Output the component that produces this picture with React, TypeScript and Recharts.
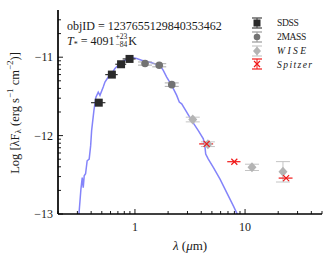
import React from "react";
import { ComposedChart, Line, Scatter, XAxis, YAxis, ErrorBar, Label } from "recharts";

// ---------------------------------------------------------------------------
// Data (wavelength in micron, log lambda F_lambda)
// ---------------------------------------------------------------------------

const MODEL_LAM = [
  0.31, 0.323, 0.332, 0.339, 0.346, 0.356, 0.368, 0.384, 0.396, 0.404, 0.424,
  0.442, 0.464, 0.481, 0.515, 0.534, 0.572, 0.614, 0.658, 0.705, 0.757, 0.841,
  0.933, 1.036, 1.15, 1.369, 1.688, 1.808, 1.942, 2.157, 2.394, 2.528, 2.658,
  2.951, 3.278, 3.763, 4.178, 4.329, 4.392, 4.639, 5.15, 5.926, 6.818, 7.828,
  8.511,
];
const MODEL_F = [
  -13.0, -12.683, -12.535, -12.663, -12.513, -12.487, -12.321, -12.299,
  -12.128, -11.936, -11.679, -11.509, -11.445, -11.487, -11.381, -11.317,
  -11.253, -11.209, -11.145, -11.103, -11.06, -11.029, -11.004, -11.017,
  -11.038, -11.064, -11.103, -11.167, -11.253, -11.359, -11.487, -11.573,
  -11.594, -11.701, -11.808, -11.936, -12.042, -12.15, -12.235, -12.299,
  -12.406, -12.555, -12.727, -12.897, -13.004,
];

const SDSS_LAM = [0.469, 0.617, 0.748, 0.893];
const SDSS_F = [-11.58, -11.222, -11.09, -11.022];
const SDSS_XERR = [0.07, 0.08, 0.085, 0.12];

const TMASS_LAM = [1.235, 1.662, 2.159];
const TMASS_F = [-11.081, -11.103, -11.35];
const TMASS_YERR = [0.02, 0.02, 0.022];

const WISE_LAM = [3.35, 4.6, 11.56, 22.1];
const WISE_F = [-11.795, -12.11, -12.405, -12.462];
const WISE_YERR = [0.03, 0.03, 0.04, 0.13];

const SPITZER_LAM = [4.48, 7.99, 23.6];
const SPITZER_F = [-12.106, -12.333, -12.542];
const SPITZER_XERR = [0.65, 1.1, 3.4];

const X_TICKS = [
  0.2, 0.3, 0.4, 0.5, 0.6, 0.7, 0.8, 0.9, 1, 2, 3, 4, 5, 6, 7, 8, 9, 10, 20, 30,
  40, 50,
];
const X_MAJOR = [1, 10];
const Y_MAJOR = [-13, -12, -11];
const Y_MINOR_MULT = [2, 3, 4, 5, 6, 7, 8, 9];

const model = MODEL_LAM.map((x, i) => ({ x, y: MODEL_F[i] }));
const sdss = SDSS_LAM.map((x, i) => ({ x, y: SDSS_F[i], ex: SDSS_XERR[i] }));
const tmass = TMASS_LAM.map((x, i) => ({ x, y: TMASS_F[i], ey: TMASS_YERR[i] }));
const wise = WISE_LAM.map((x, i) => ({ x, y: WISE_F[i], ey: WISE_YERR[i] }));
const spitzer = SPITZER_LAM.map((x, i) => ({ x, y: SPITZER_F[i], ex: SPITZER_XERR[i] }));

const yTicks = [
  ...Y_MAJOR,
  ...[-13, -12, -11].flatMap((d) => Y_MINOR_MULT.map((k) => d + Math.log10(k))),
].filter((v) => v <= -10.4);

// ---------------------------------------------------------------------------
// Styling
// ---------------------------------------------------------------------------

const FONT = "'Liberation Serif', 'DejaVu Serif', serif";
const INK = "#1a1a1a";
const SDSS_COLOR = "#2a2a2a";
const TMASS_COLOR = "#737373";
const WISE_COLOR = "#b4b4b4";
const SPITZER_COLOR = "#f01818";
const MODEL_COLOR = "#8484fa";
const frame = { stroke: "#000", strokeWidth: 1.7 };

// ---------------------------------------------------------------------------
// Ticks (inward, on all four sides)
// ---------------------------------------------------------------------------

function XTick(props: any) {
  const { x, y, payload, side } = props;
  const major = X_MAJOR.includes(payload.value);
  const len = major ? 5 : 3;
  const dir = side === "top" ? 1 : -1;
  return (
    <g>
      <line x1={x} y1={y} x2={x} y2={y + dir * len} stroke="#000" strokeWidth={0.9} />
      {side === "bottom" && major && (
        <text x={x} y={y + 17} textAnchor="middle" fontFamily={FONT} fontSize={12} fill={INK}>
          {payload.value}
        </text>
      )}
    </g>
  );
}

function YTick(props: any) {
  const { x, y, payload, side } = props;
  const major = Y_MAJOR.includes(payload.value);
  const len = major ? 5 : 3;
  const dir = side === "left" ? 1 : -1;
  return (
    <g>
      <line x1={x} y1={y} x2={x + dir * len} y2={y} stroke="#000" strokeWidth={0.9} />
      {side === "left" && major && (
        <text x={x - 5} y={y + 4} textAnchor="end" fontFamily={FONT} fontSize={12} fill={INK}>
          {"\u2212" + Math.abs(payload.value)}
        </text>
      )}
    </g>
  );
}

function YLabel(props: any) {
  const vb = props.viewBox || { x: 8, y: 10, width: 50, height: 204 };
  const cx = vb.x + 7;
  const cy = vb.y + vb.height / 2 + 1;
  return (
    <text
      x={cx}
      y={cy}
      transform={`rotate(-90, ${cx}, ${cy})`}
      textAnchor="middle"
      dominantBaseline="central"
      fontFamily={FONT}
      fontSize={12.5}
      fill={INK}
    >
      Log [λF
      <tspan fontSize={9} dy={3}>λ</tspan>
      <tspan dy={-3}> (erg s</tspan>
      <tspan fontSize={9} dy={-5}>−1</tspan>
      <tspan dy={5}> cm</tspan>
      <tspan fontSize={9} dy={-5}>−2</tspan>
      <tspan dy={5}>)]</tspan>
    </text>
  );
}

function XLabel(props: any) {
  const vb = props.viewBox || { x: 58, y: 214, width: 264, height: 47 };
  return (
    <text
      x={vb.x + vb.width / 2}
      y={vb.y + 36}
      textAnchor="middle"
      fontFamily={FONT}
      fontSize={13}
      fill={INK}
    >
      <tspan fontStyle="italic">λ</tspan> (<tspan fontStyle="italic">μ</tspan>m)
    </text>
  );
}

// ---------------------------------------------------------------------------
// Markers
// ---------------------------------------------------------------------------

const SquareDot = (p: any) => (
  <rect x={p.cx - 4} y={p.cy - 4} width={8} height={8} fill={SDSS_COLOR} />
);
const CircleDot = (p: any) => <circle cx={p.cx} cy={p.cy} r={3.8} fill={TMASS_COLOR} />;
const DiamondDot = (p: any) => (
  <path
    d={`M${p.cx},${p.cy - 5}L${p.cx + 4.5},${p.cy}L${p.cx},${p.cy + 5}L${p.cx - 4.5},${p.cy}Z`}
    fill={WISE_COLOR}
  />
);
const CrossDot = (p: any) => (
  <path
    d={`M${p.cx - 3},${p.cy - 3}L${p.cx + 3},${p.cy + 3}M${p.cx - 3},${p.cy + 3}L${p.cx + 3},${p.cy - 3}`}
    stroke={SPITZER_COLOR}
    strokeWidth={1.2}
    fill="none"
  />
);

// ---------------------------------------------------------------------------
// Legend
// ---------------------------------------------------------------------------

const LEGEND = [
  { name: "SDSS", italic: false, color: SDSS_COLOR, bar: "#444", spacing: -0.4 },
  { name: "2MASS", italic: false, color: TMASS_COLOR, bar: "#999", spacing: -0.4 },
  { name: "WISE", italic: true, color: WISE_COLOR, bar: "#c8c8c8", spacing: 2.4 },
  { name: "Spitzer", italic: true, color: SPITZER_COLOR, bar: SPITZER_COLOR, spacing: 1.4 },
];

function LegendMarker({ idx, color, bar }: { idx: number; color: string; bar: string }) {
  const cx = 8;
  const cy = 7;
  let mark: React.ReactNode = null;
  if (idx === 0) mark = <rect x={cx - 3.5} y={cy - 3.5} width={7} height={7} fill={color} />;
  if (idx === 1) mark = <circle cx={cx} cy={cy} r={3.3} fill={color} />;
  if (idx === 2)
    mark = (
      <path d={`M${cx},${cy - 4.5}L${cx + 4},${cy}L${cx},${cy + 4.5}L${cx - 4},${cy}Z`} fill={color} />
    );
  if (idx === 3)
    mark = (
      <path
        d={`M${cx - 3},${cy - 3}L${cx + 3},${cy + 3}M${cx - 3},${cy + 3}L${cx + 3},${cy - 3}`}
        stroke={color}
        strokeWidth={1.2}
      />
    );
  return (
    <svg width={18} height={14} style={{ display: "block" }}>
      <line x1={cx} y1={2} x2={cx} y2={12} stroke={bar} strokeWidth={1} />
      <line x1={cx - 5} y1={2} x2={cx + 5} y2={2} stroke={bar} strokeWidth={1.2} />
      <line x1={cx - 5} y1={12} x2={cx + 5} y2={12} stroke={bar} strokeWidth={1.2} />
      {mark}
    </svg>
  );
}

// ---------------------------------------------------------------------------
// Component
// ---------------------------------------------------------------------------

export default function App() {
  return (
    <div style={{ position: "absolute", left: 0, top: 0, width: 332, height: 261, background: "#fff" }}>
      <ComposedChart width={332} height={261} margin={{ top: 10, right: 10, bottom: 0, left: 8 }}>
        <XAxis
          dataKey="x"
          type="number"
          scale="log"
          domain={[0.2, 50]}
          allowDataOverflow
          ticks={X_TICKS}
          interval={0}
          tickSize={0}
          tickMargin={0}
          tickLine={false}
          axisLine={frame}
          tick={<XTick side="bottom" />}
          height={47}
        >
          <Label content={<XLabel />} />
        </XAxis>
        <XAxis
          xAxisId="top"
          orientation="top"
          type="number"
          scale="log"
          domain={[0.2, 50]}
          allowDataOverflow
          ticks={X_TICKS}
          interval={0}
          tickSize={0}
          tickMargin={0}
          tickLine={false}
          axisLine={frame}
          tick={<XTick side="top" />}
          height={0}
        />
        <YAxis
          dataKey="y"
          type="number"
          domain={[-13, -10.398]}
          allowDataOverflow
          ticks={yTicks}
          interval={0}
          tickSize={0}
          tickMargin={0}
          tickLine={false}
          axisLine={frame}
          tick={<YTick side="left" />}
          width={50}
        >
          <Label content={<YLabel />} />
        </YAxis>
        <YAxis
          yAxisId="right"
          orientation="right"
          type="number"
          domain={[-13, -10.398]}
          allowDataOverflow
          ticks={yTicks}
          interval={0}
          tickSize={0}
          tickMargin={0}
          tickLine={false}
          axisLine={frame}
          tick={<YTick side="right" />}
          width={0}
        />

        <Line
          data={model}
          dataKey="y"
          type="linear"
          stroke={MODEL_COLOR}
          strokeWidth={1.5}
          dot={false}
          activeDot={false}
          isAnimationActive={false}
        />

        <Scatter data={sdss} dataKey="y" shape={SquareDot} isAnimationActive={false}>
          <ErrorBar dataKey="ex" direction="x" width={0} stroke="#333" strokeWidth={1.2} isAnimationActive={false} />
        </Scatter>
        <Scatter data={tmass} dataKey="y" shape={CircleDot} isAnimationActive={false}>
          <ErrorBar dataKey="ey" direction="y" width={7} stroke="#aaa" strokeWidth={1} isAnimationActive={false} />
        </Scatter>
        <Scatter data={wise} dataKey="y" shape={DiamondDot} isAnimationActive={false}>
          <ErrorBar dataKey="ey" direction="y" width={7} stroke="#c4c4c4" strokeWidth={1} isAnimationActive={false} />
        </Scatter>
        <Scatter data={spitzer} dataKey="y" shape={CrossDot} isAnimationActive={false}>
          <ErrorBar dataKey="ex" direction="x" width={0} stroke={SPITZER_COLOR} strokeWidth={1.2} isAnimationActive={false} />
        </Scatter>
      </ComposedChart>

      {/* Object annotation */}
      <div
        style={{
          position: "absolute",
          left: 67,
          top: 20,
          fontFamily: FONT,
          fontSize: 12,
          lineHeight: "13px",
          color: INK,
          whiteSpace: "nowrap",
        }}
      >
        <div>objID = 1237655129840353462</div>
        <div style={{ display: "flex", alignItems: "center" }}>
          <i>T</i>
          <span style={{ fontSize: 8, position: "relative", top: 3 }}>*</span>
          <span>&nbsp;= 4091</span>
          <span
            style={{ display: "inline-flex", flexDirection: "column", fontSize: 7.5, lineHeight: "8px", margin: "0 1px" }}
          >
            <span>+23</span>
            <span>−84</span>
          </span>
          <span>K</span>
        </div>
      </div>

      {/* Legend */}
      <div style={{ position: "absolute", left: 249, top: 16, fontFamily: FONT, fontSize: 9.6, color: INK }}>
        {LEGEND.map((e, i) => (
          <div key={e.name} style={{ display: "flex", alignItems: "center", height: 13.8 }}>
            <LegendMarker idx={i} color={e.color} bar={e.bar} />
            <span
              style={{
                marginLeft: 10,
                fontStyle: e.italic ? "italic" : "normal",
                letterSpacing: e.spacing,
              }}
            >
              {e.name}
            </span>
          </div>
        ))}
      </div>
    </div>
  );
}
